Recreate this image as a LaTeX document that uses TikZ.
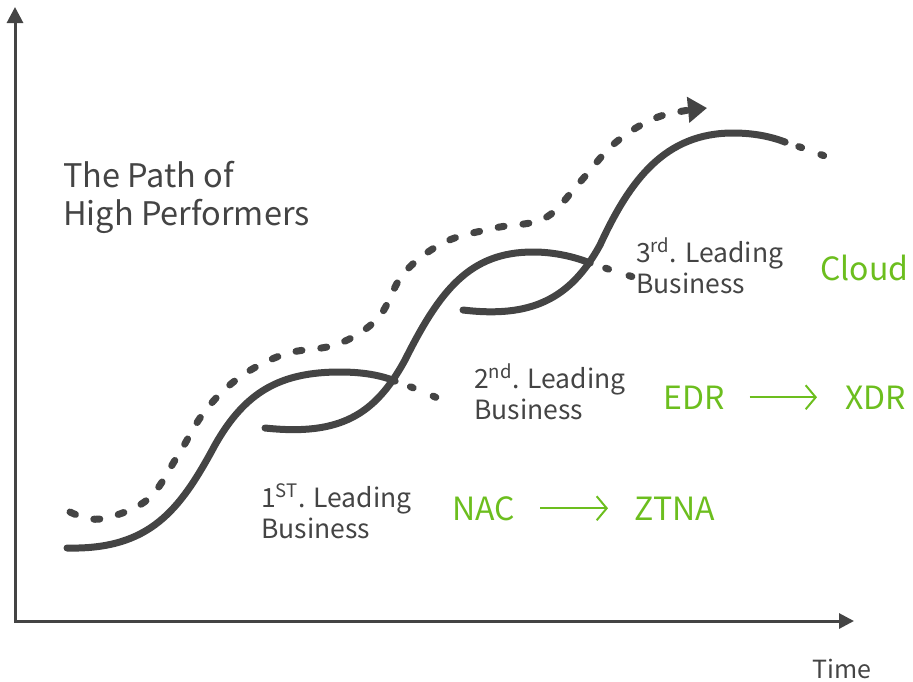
\documentclass[tikz,border=0pt]{standalone}
\usepackage{fontspec}
\setmainfont{Noto Sans CJK KR}
\usetikzlibrary{arrows.meta}
\definecolor{inkgray}{RGB}{68,68,68}
\definecolor{leafgreen}{RGB}{108,190,30}
\tikzset{
  axis/.style={line width=3pt, draw=inkgray},
  sline/.style={line width=7pt, draw=inkgray, line cap=round},
  dline/.style={line width=7pt, draw=inkgray, line cap=round, dash pattern=on 6pt off 19pt},
  lbl/.style={anchor=base west, inner sep=0pt, align=left, text=inkgray, font=\fontsize{26.5}{31}\selectfont},
  tech/.style={anchor=base west, inner sep=0pt, text=leafgreen, font=\fontsize{32}{36}\selectfont},
  flow/.style={draw=leafgreen, line width=2pt, -{Straight Barb[length=10pt,width=24pt]}}
}
\begin{document}
\begin{tikzpicture}[x=1pt,y=-1pt]
\useasboundingbox (0,0) rectangle (913,681);

% axes
\coordinate (origin) at (15,621);
\coordinate (ytop) at (15,7);
\coordinate (xend) at (854,621);
\draw[axis, {Triangle[length=16pt,width=16pt]}-{Triangle[length=15pt,width=15pt]}] (ytop) -- (origin) -- (xend);
\node[anchor=base west, inner sep=0pt, text=inkgray, font=\fontsize{25}{30}\selectfont] (time) at (812,678) {Time};

% dashed path with arrow
\draw[dline, -{Triangle[length=19pt,width=25pt]}] plot[smooth, tension=0.6] coordinates {
  (70,512) (100,519) (147,500) (177,457) (205,411) (240,377) (285,354)
  (338,344) (378,318) (404,273) (445,242) (495,228) (545,218) (580,182)
  (615,143) (658,117) (707,108)};

% leading curves
\draw[sline] (67,548) .. controls (150,550) and (180,510) .. (215,445)
  .. controls (245,392) and (280,372) .. (340,372)
  .. controls (362,372) and (380,375) .. (395,381) coordinate (end1);
\draw[sline] (265,428) .. controls (340,436) and (375,415) .. (405,360)
  .. controls (440,290) and (470,252) .. (533,252)
  .. controls (555,252) and (575,257) .. (590,263) coordinate (end2);
\draw[sline] (463,310) .. controls (530,318) and (570,300) .. (600,245)
  .. controls (630,180) and (665,133) .. (733,133)
  .. controls (755,133) and (772,137) .. (785,142) coordinate (end3);

% dotted tails
\draw[sline, dash pattern=on 0pt off 16.5pt on 3pt off 21.5pt on 3pt off 60pt]
  (end1) .. controls (410,386) and (425,393) .. (445,401);
\draw[sline, dash pattern=on 0pt off 16.5pt on 3pt off 21.5pt on 3pt off 60pt]
  (end2) .. controls (605,268) and (620,273) .. (640,279);
\draw[sline, dash pattern=on 0pt off 14.5pt on 3pt off 20.5pt on 3pt off 60pt]
  (end3) .. controls (800,147) and (815,152) .. (832,159);

% labels (anchored at the baseline of the last line)
\node[lbl, font=\fontsize{32.5}{38}\selectfont] (title) at (63,225) {The Path of\\High Performers};
\node[lbl] (first) at (261,538) {1\textsuperscript{ST}. Leading\\Business};
\node[lbl] (second) at (474,419) {2\textsuperscript{nd}. Leading\\Business};
\node[lbl] (third) at (636,293) {3\textsuperscript{rd}. Leading\\Business};

% technologies
\node[tech] (cloud) at (820,280) {Cloud};
\node[tech] (edr) at (663,409) {EDR};
\node[tech] (xdr) at (845,409) {XDR};
\node[tech] (nac) at (452,520) {NAC};
\node[tech] (ztna) at (634,520) {ZTNA};
\draw[flow] ([xshift=25pt]edr.east) -- ([xshift=-28pt]xdr.west);
\draw[flow] ([xshift=25pt]nac.east) -- ([xshift=-26pt]ztna.west);
\end{tikzpicture}
\end{document}
